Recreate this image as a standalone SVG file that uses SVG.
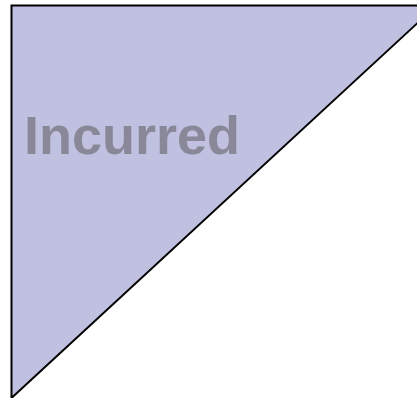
<svg xmlns="http://www.w3.org/2000/svg" width="417" height="398" viewBox="0 0 417 398">
<style>
.tri{fill:#c0c0e0;stroke:#000;stroke-width:2}
.lbl{font-family:"Liberation Sans",Arial,sans-serif;font-weight:bold;font-size:54px;fill:#888899}
</style>
<rect width="417" height="398" fill="#fff"/>
<g id="triangle">
<polygon class="tri" points="11.5,5.5 436.5,5.5 11.5,398"/>
<text class="lbl" x="24" y="154">Incurred</text>
</g>
</svg>
